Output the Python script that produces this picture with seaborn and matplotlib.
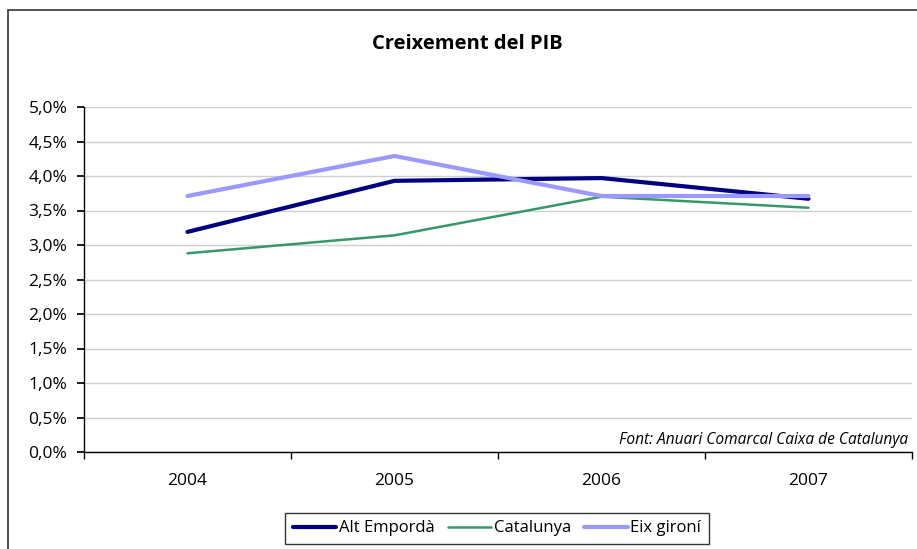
import pandas as pd
import seaborn as sns
import matplotlib.pyplot as plt
from matplotlib.patches import Rectangle
from matplotlib.ticker import FixedLocator

years = ["2004", "2005", "2006", "2007"]
alt_emporda = [3.19, 3.93, 3.97, 3.67]
catalunya = [2.88, 3.14, 3.70, 3.54]
eix_gironi = [3.71, 4.29, 3.71, 3.71]
series_names = ["Alt Empordà", "Catalunya", "Eix gironí"]
yticks = [0.0, 0.5, 1.0, 1.5, 2.0, 2.5, 3.0, 3.5, 4.0, 4.5, 5.0]

sns.set_theme(style="white")
plt.rcParams['font.family'] = ['Open Sans', 'DejaVu Sans']
plt.rcParams['text.color'] = 'black'
plt.rcParams['xtick.color'] = 'black'
plt.rcParams['ytick.color'] = 'black'

rows = []
for name, vals in zip(series_names, [alt_emporda, catalunya, eix_gironi]):
	for i, v in enumerate(vals):
		rows.append({'pos': i, 'Any': years[i], 'Serie': name, 'PIB': v})
df = pd.DataFrame(rows)

palette = {"Alt Empordà": "#000080", "Catalunya": "#339966", "Eix gironí": "#9999FF"}
widths = {"Alt Empordà": 3.0, "Catalunya": 1.8, "Eix gironí": 3.0}

fig = plt.figure(figsize=(9.17, 5.49), dpi=100)
ax = fig.add_axes([84 / 917, 1 - 452 / 549, (912 - 84) / 917, (452 - 107) / 549])

sns.lineplot(data=df, x='pos', y='PIB', hue='Serie', palette=palette, ax=ax, legend=False)
for line, name in zip(ax.lines, series_names):
	line.set_linewidth(widths[name])
	line.set_solid_capstyle('round')

ax.set_xlim(-0.5, len(years) - 0.5)
ax.set_ylim(0, 5.0)
ax.set_yticks(yticks)
ax.set_yticklabels([f"{t:.1f}%".replace('.', ',') for t in yticks], fontsize=12.5)
ax.set_xticks(range(len(years)))
ax.set_xticklabels(years, fontsize=12.5)
ax.xaxis.set_minor_locator(FixedLocator([i - 0.5 for i in range(len(years) + 1)]))
ax.tick_params(axis='x', which='major', length=0, pad=15)
ax.tick_params(axis='x', which='minor', length=5, color='black', bottom=True)
ax.tick_params(axis='y', length=5, color='black', left=True, pad=7)
ax.yaxis.grid(True, color='#d0d0d0', linewidth=1)
ax.set_axisbelow(True)
ax.set_xlabel('')
ax.set_ylabel('')
for side in ['top', 'right']:
	ax.spines[side].set_visible(False)
for side in ['left', 'bottom']:
	ax.spines[side].set_color('black')
	ax.spines[side].set_linewidth(1)

ax.text(0.995, 0.035, "Font: Anuari Comarcal Caixa de Catalunya", transform=ax.transAxes,
	ha='right', va='center', fontsize=11.2, style='italic')

fig.text(467 / 917, 1 - 44 / 549, "Creixement del PIB", ha='center', va='center',
	fontsize=14.5, fontweight='bold')

# outer chart border (cropped on right/bottom like the reference)
fig.patches.append(Rectangle((8 / 917, -0.1), 1.0, 1 - 10 / 549 + 0.1, transform=fig.transFigure,
	fill=False, edgecolor='#333333', linewidth=1.2))

handles = [plt.Line2D([], [], color=palette[n], linewidth=widths[n]) for n in series_names]
leg = fig.legend(handles, series_names, loc='upper center', bbox_to_anchor=(497 / 917, 1 - 513 / 549),
	ncol=3, frameon=True, fontsize=12, handlelength=2.6, handletextpad=0.15, columnspacing=0.8,
	borderpad=0.45, fancybox=False, borderaxespad=0)
leg.get_frame().set_edgecolor('black')
leg.get_frame().set_linewidth(1)

plt.savefig('out.png', dpi=100)
plt.close()
